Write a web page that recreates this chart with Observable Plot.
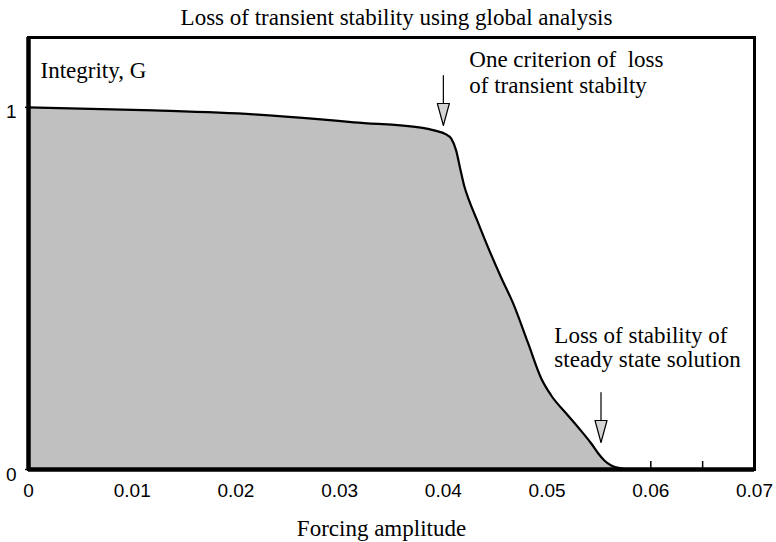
<!DOCTYPE html>
<html>
<head>
<meta charset="utf-8">
<script src="https://cdn.jsdelivr.net/npm/d3@7"></script>
<script src="https://cdn.jsdelivr.net/npm/@observablehq/plot@0.6"></script>
<style>
  html, body { margin: 0; padding: 0; background: #fff; }
  #chart svg { display: block; }
</style>
</head>
<body>
<div id="chart"></div>
<script>
// ---- data ----
const forcing   = [0, 0.01207, 0.02172, 0.02819, 0.03138, 0.03785, 0.03910, 0.04026, 0.04075, 0.04123, 0.04162, 0.04200, 0.04248, 0.04326, 0.04403, 0.04557, 0.04673, 0.04818, 0.04944, 0.05040, 0.05185, 0.05301, 0.05426, 0.05494, 0.05552, 0.05619, 0.05716, 0.0579];
const integrity = [1.000, 0.9917, 0.9807, 0.9669, 0.9586, 0.9439, 0.9365, 0.9254, 0.9144, 0.8812, 0.8315, 0.7845, 0.7431, 0.6878, 0.6326, 0.5304, 0.4586, 0.3481, 0.2514, 0.2044, 0.1547, 0.1160, 0.0718, 0.0442, 0.0249, 0.0110, 0.0028, 0.000];

const xTicks = [0, 0.01, 0.02, 0.03, 0.04, 0.05, 0.06, 0.07];
const xTickLabels = ["0", "0.01", "0.02", "0.03", "0.04", "0.05", "0.06", "0.07"];
const yTicks = [0, 1];
const yTickLabels = ["0", "1"];
const minorTicks = [0.005, 0.01, 0.015, 0.02, 0.025, 0.03, 0.035, 0.04, 0.045, 0.05, 0.055, 0.06, 0.065];

const titleText = "Loss of transient stability using global analysis";
const xLabel = "Forcing amplitude";
const yLabel = "Integrity, G";

const arrowX   = [0.0400, 0.0552];
const arrowTip = [0.950, 0.0746];

const noteText = ["One criterion of\u00a0 loss\nof transient stabilty", "Loss of stability of\nsteady state solution"];
const noteX = [0.0425, 0.0507];
const noteY = [1.0387, 0.2818];

// ---- build ----
const curve = forcing.map((x, i) => ({x, y: integrity[i]}));
const arrows = arrowX.map((x, i) => ({x, y: arrowTip[i]}));
const notes = noteText.map((t, i) => ({t, x: noteX[i], y: noteY[i]}));

const arrowShape = {
  draw(context, l) {
    const h = 22, w = 6;
    context.moveTo(0, 0);
    context.lineTo(0, -l + h);
    context.moveTo(-w, -l + h);
    context.lineTo(w, -l + h);
    context.lineTo(0, -l);
    context.closePath();
  }
};

const serif = "'Liberation Serif', 'Times New Roman', serif";
const sans = "'Liberation Sans', Arial, sans-serif";
const fs = 23;

const chart = Plot.plot({
  width: 776,
  height: 542,
  marginTop: 37,
  marginBottom: 73,
  marginLeft: 28,
  marginRight: 22,
  style: {background: "#fff", color: "#000"},
  x: {domain: [0, 0.07]},
  y: {domain: [0, 1.193]},
  marks: [
    Plot.ruleX(minorTicks, {x: d => d, y1: 0, y2: 0.022, stroke: "#000", strokeWidth: 1.5}),
    Plot.areaY(curve, {x: "x", y: "y", fill: "#c0c0c0", curve: "monotone-x"}),
    Plot.lineY(curve, {x: "x", y: "y", stroke: "#000", strokeWidth: 2.2, curve: "monotone-x"}),
    Plot.axisX({ticks: xTicks, tickFormat: (d, i) => xTickLabels[i], tickSize: 0, tickPadding: 14,
      fontSize: 19, fontFamily: sans, label: null}),
    Plot.axisY({ticks: yTicks, tickSize: 3, text: null, label: null, strokeWidth: 1.5}),
    Plot.axisY({ticks: yTicks, tickFormat: (d, i) => yTickLabels[i], tickSize: 0, tickPadding: 12, dy: 5,
      fontSize: 19, fontFamily: sans, label: null}),
    Plot.frame({stroke: "#000", strokeWidth: 3}),
    Plot.ruleX([0], {stroke: "#000", strokeWidth: 4.5}),
    Plot.ruleY([0], {stroke: "#000", strokeWidth: 4.5}),
    Plot.vector(arrows, {x: "x", y: "y", length: 50, rotate: 180, anchor: "end", shape: arrowShape,
      stroke: "#000", strokeWidth: 1.2, fill: "#d4d4d4"}),
    Plot.text(notes.slice(0, 1), {x: "x", y: "y", text: "t", textAnchor: "start", lineAnchor: "bottom",
      lineHeight: 26 / fs, fontSize: fs, fontFamily: serif, fill: "#000"}),
    Plot.text(notes.slice(1), {x: "x", y: "y", text: "t", textAnchor: "start", lineAnchor: "bottom",
      lineHeight: 24 / fs, fontSize: fs, fontFamily: serif, fill: "#000"}),
    Plot.text([titleText], {frameAnchor: "top", dx: 5, dy: -13, lineAnchor: "bottom",
      fontSize: fs, fontFamily: serif, fill: "#000"}),
    Plot.text([xLabel], {frameAnchor: "bottom", dx: -10, dy: 66, lineAnchor: "bottom",
      fontSize: fs, fontFamily: serif, fill: "#000"}),
    Plot.text([yLabel], {frameAnchor: "top-left", dx: 12, dy: 40, textAnchor: "start", lineAnchor: "bottom",
      fontSize: fs, fontFamily: serif, fill: "#000"})
  ]
});
document.getElementById("chart").appendChild(chart);
</script>
</body>
</html>
